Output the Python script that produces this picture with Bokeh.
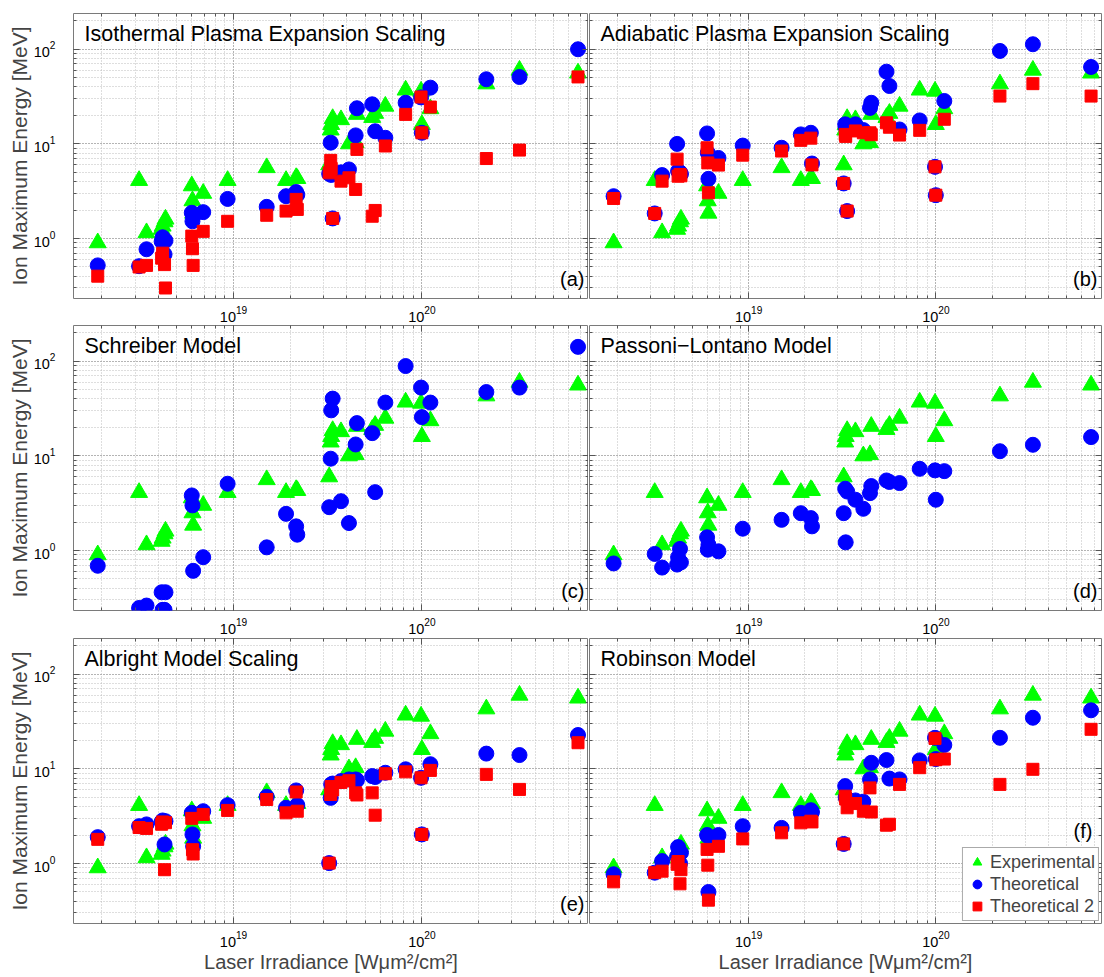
from bokeh.plotting import figure
from bokeh.layouts import column, row
from bokeh.models import (ColumnDataSource, Label, Legend, LegendItem, LogAxis, Range1d)
from bokeh.embed import file_html
from bokeh.resources import INLINE

# Laser irradiance of each shot [W um^2 / cm^2]
irradiance = [1.9e18, 3.15e18, 3.45e18, 4.15e18, 4.2e18, 4.3e18, 4.35e18,
              6.0e18, 6.05e18, 6.1e18, 6.9e18, 9.3e18, 1.5e19, 1.9e19,
              2.15e19, 2.18e19, 3.22e19, 3.28e19, 3.3e19, 3.36e19, 3.72e19,
              4.1e19, 4.45e19, 4.52e19, 5.45e19, 5.65e19, 6.4e19, 8.2e19,
              9.9e19, 1.0e20, 1.11e20, 2.2e20, 3.3e20, 6.75e20]

# Measured maximum ion energy [MeV]
experimental = [0.9, 4.1, 1.15, 1.25, 1.35, 1.5, 1.6, 3.6, 2.5, 1.85, 3.0,
                4.1, 5.6, 4.1, 4.4, 4.3, 6.0, 14, 16, 18.5, 18, 10, 10.3,
                20.5, 19, 21, 25, 37, 36, 16, 23.5, 43, 60, 56]

# Model predictions [MeV]
isothermal = [0.52, 0.51, 0.77, 0.93, 1.03, 0.68, 0.95, 1.87, 1.52, 1.7, 1.9,
              2.62, 2.16, 2.8, 3.1, 2.9, 4.83, 10.3, 4.7, 1.63, 5.0, 5.37,
              12.3, 23.8, 26.2, 13.6, 11.6, 27.2, 31, 13.1, 39.3, 48.2, 50.9, 100]
isothermal_2 = [0.40, 0.50, 0.52, 0.62, 0.70, 0.53, 0.30, 1.06, 0.78, 0.52,
                1.19, 1.52, 1.76, 1.95, 2.59, 2.03, 4.94, 6.7, 5.5, 1.63, 4.04,
                4.38, 3.3, 8.75, 1.72, 1.98, 9.5, 20.5, 31.3, 13.1, 24.5, 7.0, 8.6, 51]

adiabatic = [2.8, 1.84, 4.68, 10, 5.15, 5.0, 4.8, 12.9, 8.05, 4.27, 7.1, 9.6,
             9.1, 12.6, 13.1, 6.2, 3.82, 16.1, 15, 1.95, 16.1, 14.0, 24, 27.2,
             58, 40.9, 14.2, 17.7, 5.72, 2.87, 28.4, 96, 113, 65]
adiabatic_2 = [2.65, 1.84, 4.04, 6.9, 4.56, 4.75, 4.6, 9.1, 6.3, 3.04, 5.97,
               7.6, 8.4, 10.9, 11.5, 6.0, 3.82, 12.6, 12.0, 1.95, 13.7, 13.1,
               13.1, 12.5, 16.7, 15.0, 12.4, 13.9, 5.72, 2.87, 18.2, 32, 43.3, 32]

schreiber = [0.69, 0.247, 0.262, 0.362, 0.236, 0.236, 0.362, 3.82, 3.0, 0.61,
             0.85, 5.08, 1.08, 2.44, 1.8, 1.47, 2.87, 9.34, 30.3, 40.3, 3.32,
             1.95, 13.2, 22.2, 17.4, 4.14, 36.6, 89, 52.7, 25.7, 36.6, 47.3, 52.7, 142]

passoni_lontano = [0.73, 0.92, 0.66, 0.71, 0.85, 1.04, 0.75, 1.38, 1.02, 1.15,
                   0.98, 1.7, 2.11, 2.48, 2.2, 1.8, 2.48, 4.5, 1.22, 4.2, 3.44,
                   2.76, 4.04, 4.8, 5.5, 5.3, 5.16, 7.3, 7.03, 3.44, 6.9, 11.2, 13.1, 15.8]

albright = [1.9, 2.48, 2.59, 2.75, 2.85, 1.59, 2.8, 3.43, 2.03, 1.52, 3.57,
            4.14, 5.07, 3.88, 5.92, 4.14, 1.01, 4.94, 6.86, 7.0, 7.43, 7.74,
            7.74, 7.6, 8.39, 8.2, 9.1, 9.9, 8.05, 2.03, 11.2, 14.5, 14.0, 22.8]
albright_2 = [1.8, 2.4, 2.35, 2.6, 2.75, 0.86, 2.7, 3.0, 1.4, 1.26, 3.3, 3.64,
              4.75, 3.43, 5.7, 3.57, 1.01, 5.37, 6.5, 6.0, 7.2, 7.5, 5.58, 5.3,
              5.58, 3.24, 8.9, 9.3, 8.05, 2.03, 9.64, 8.75, 6.07, 18.9]

robinson = [0.77, 0.80, 1.06, 1.19, 1.49, 1.0, 1.3, 2.0, 1.95, 0.50, 2.0, 2.48,
            2.38, 3.43, 3.66, 3.5, 1.61, 6.58, 5.0, 4.8, 4.64, 4.5, 7.74, 11.6,
            12.4, 7.9, 7.74, 12.3, 21.3, 12.7, 17.9, 21.3, 34.7, 41.6]
robinson_2 = [0.64, 0.80, 0.83, 0.98, 1.05, 0.61, 0.86, 1.41, 0.96, 0.41, 1.52,
              1.82, 2.11, 2.69, 2.8, 2.75, 1.61, 5.15, 4.8, 3.88, 4.3, 3.57, 6.3,
              3.5, 2.54, 2.6, 6.86, 10.3, 21, 12.5, 12.7, 6.86, 9.9, 26.2]

X_LO, X_HI = 10 ** 18.15, 10 ** 20.885
Y_LO, Y_HI = 10 ** -0.634, 10 ** 2.378

FONT = "Liberation Sans"
GREEN, BLUE, RED = "#00ff00", "#0000ff", "#ff0000"
FRAME_H = 285


def style_axis(ax, show_labels, size="14.5px", standoff=4):
    ax.axis_line_color = None
    ax.major_tick_in, ax.major_tick_out = 6, 0
    ax.minor_tick_in, ax.minor_tick_out = 3, 0
    ax.major_tick_line_color = "#555555"
    ax.minor_tick_line_color = "#555555"
    if show_labels:
        ax.major_label_text_font = FONT
        ax.major_label_text_font_size = size
        ax.major_label_text_color = "black"
        ax.major_label_standoff = standoff
    else:
        # tick marks only, labels kept tiny and transparent
        ax.major_label_text_font_size = "1px"
        ax.major_label_text_alpha = 0
        ax.major_label_standoff = 0


def panel(name, tag, theo, theo2=None, left_col=True, rank=0, legend=False):
    if rank == 0:
        mb_top, height, mb_bottom = 13, 325, 27
    elif rank == 1:
        mb_top, height, mb_bottom = 0, 313, 28
    else:
        mb_top, height, mb_bottom = 0, 339, 54
    width = 588 if left_col else 516
    p = figure(width=width, height=height,
               x_axis_type="log", y_axis_type="log",
               x_range=Range1d(X_LO, X_HI), y_range=Range1d(Y_LO, Y_HI),
               output_backend="svg", toolbar_location=None,
               min_border_left=73 if left_col else 1,
               min_border_right=0 if left_col else 3,
               min_border_top=mb_top, min_border_bottom=mb_bottom,
               background_fill_color="white", border_fill_color="white")
    p.outline_line_color = "#7a7a7a"
    p.outline_line_width = 1

    xt = p.xaxis[0].ticker
    yt = p.yaxis[0].ticker
    xt.num_minor_ticks = 10
    yt.num_minor_ticks = 10

    for g in (p.xgrid[0], p.ygrid[0]):
        g.grid_line_color = "#9a9a9a"
        g.grid_line_dash = "1 2"
        g.minor_grid_line_color = "#bdbdbd"
        g.minor_grid_line_dash = "1 2"

    style_axis(p.xaxis[0], True, "14.5px", 7)
    style_axis(p.yaxis[0], left_col, "14.5px", 18)
    if left_col:
        p.yaxis[0].axis_label = "Ion Maximum Energy [MeV]"
        p.yaxis[0].axis_label_text_font = FONT
        p.yaxis[0].axis_label_text_font_size = "21px"
        p.yaxis[0].axis_label_text_font_style = "normal"
        p.yaxis[0].axis_label_standoff = 0
    if rank == 2:
        p.xaxis[0].axis_label = "Laser Irradiance [W\u03bcm\u00b2/cm\u00b2]"
        p.xaxis[0].axis_label_text_font = FONT
        p.xaxis[0].axis_label_text_font_size = "20px"
        p.xaxis[0].axis_label_text_font_style = "normal"
        p.xaxis[0].axis_label_standoff = 1

    top = LogAxis(ticker=xt)
    style_axis(top, False)
    p.add_layout(top, "above")
    right = LogAxis(ticker=yt)
    style_axis(right, False)
    p.add_layout(right, "right")

    data = dict(x=irradiance, exp=experimental, theo=theo)
    if theo2 is not None:
        data["theo2"] = theo2
    src = ColumnDataSource(data)
    r_exp = p.scatter("x", "exp", source=src, marker="triangle", size=17,
                      fill_color=GREEN, line_color=GREEN)
    r_theo = p.scatter("x", "theo", source=src, marker="circle", size=15,
                       fill_color=BLUE, line_color=BLUE)
    r_theo2 = None
    if theo2 is not None:
        r_theo2 = p.scatter("x", "theo2", source=src, marker="square", size=12,
                            fill_color=RED, line_color=RED)

    p.add_layout(Label(x=11, y=FRAME_H - 8, x_units="screen", y_units="screen",
                       text=name, text_baseline="top", text_font=FONT,
                       text_font_size="21.5px", text_color="black"))
    tag_y = 82 if legend else 9
    tag_x = (515 if left_col else 512) - (9 if legend else 4)
    p.add_layout(Label(x=tag_x, y=tag_y, x_units="screen", y_units="screen",
                       text=tag, text_align="right", text_baseline="bottom",
                       text_font=FONT, text_font_size="20px", text_color="black"))

    if legend:
        lg = Legend(items=[LegendItem(label="Experimental", renderers=[r_exp]),
                           LegendItem(label="Theoretical", renderers=[r_theo]),
                           LegendItem(label="Theoretical 2", renderers=[r_theo2])],
                    location="bottom_right", margin=2, padding=3, spacing=0,
                    glyph_width=22, glyph_height=22, label_height=21,
                    label_standoff=2, label_text_font=FONT,
                    label_text_font_size="18px",
                    border_line_color="#555555", border_line_width=1,
                    background_fill_color="white", background_fill_alpha=1)
        p.add_layout(lg)
    return p


pa = panel("Isothermal Plasma Expansion Scaling", "(a)", isothermal, isothermal_2, True, 0)
pb = panel("Adiabatic Plasma Expansion Scaling", "(b)", adiabatic, adiabatic_2, False, 0)
pc = panel("Schreiber Model", "(c)", schreiber, None, True, 1)
pd = panel("Passoni\u2212Lontano Model", "(d)", passoni_lontano, None, False, 1)
pe = panel("Albright Model Scaling", "(e)", albright, albright_2, True, 2)
pf = panel("Robinson Model", "(f)", robinson, robinson_2, False, 2, legend=True)

layout = column(row(pa, pb), row(pc, pd), row(pe, pf))

with open("out.html", "w") as f:
    f.write(file_html(layout, INLINE))
